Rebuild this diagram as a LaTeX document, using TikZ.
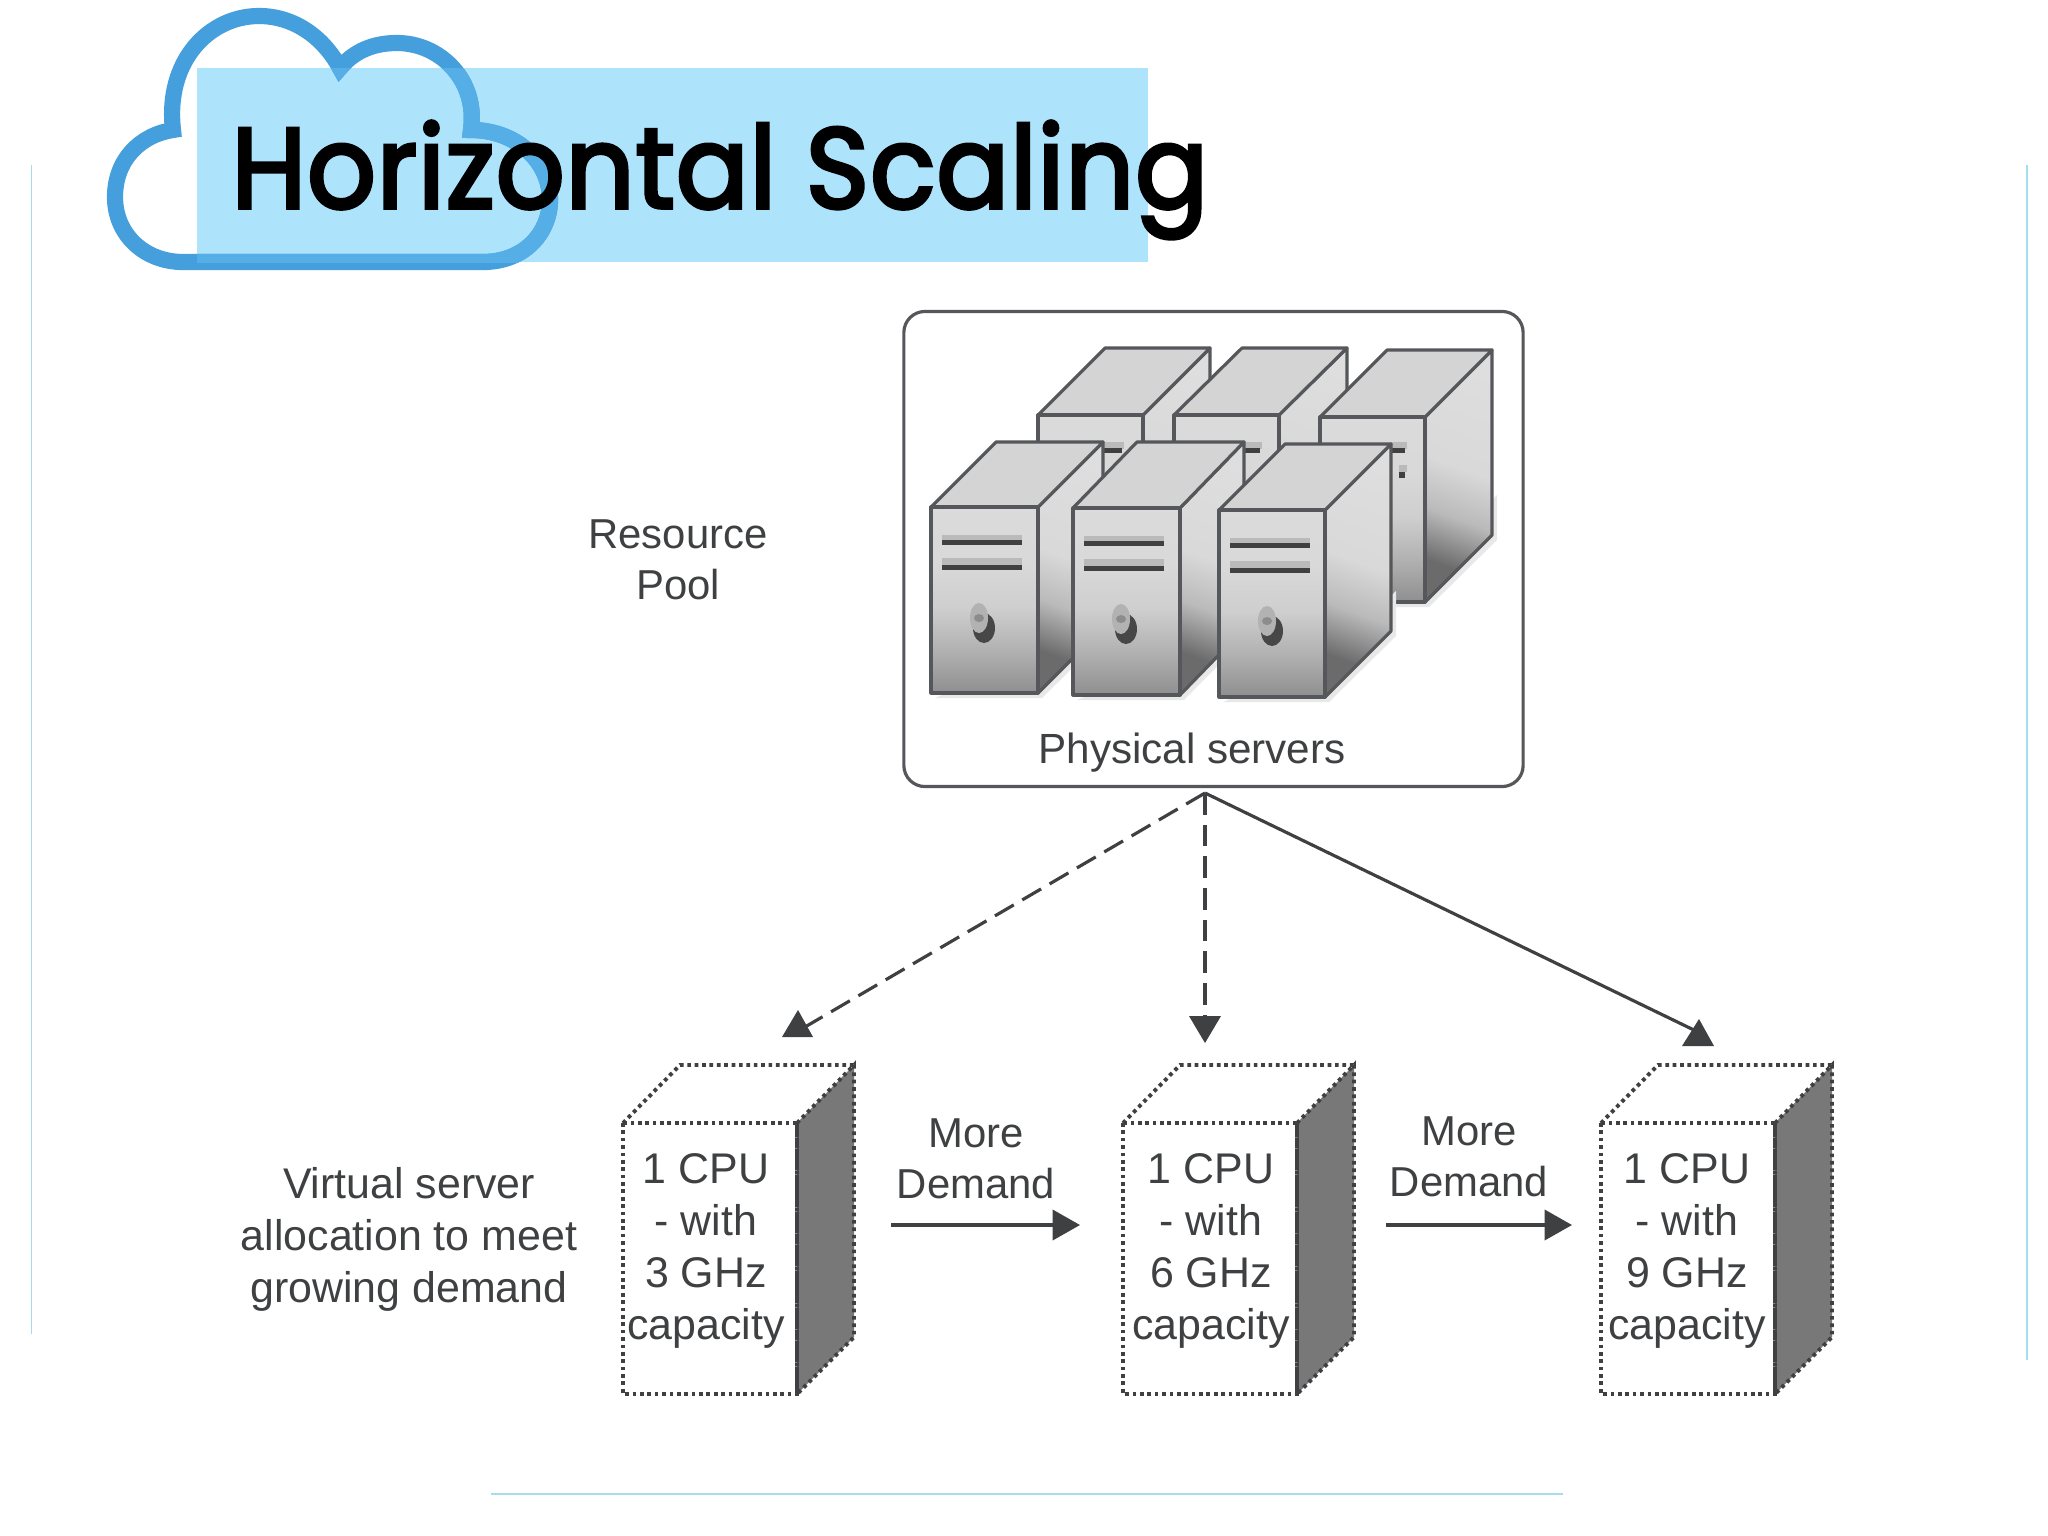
\documentclass[tikz,border=0pt]{standalone}
\usepackage{fontspec}
\setmainfont{Liberation Sans}
\newfontfamily\titlefont[FakeBold=3.2,FakeStretch=0.94,LetterSpace=1.0]{Poppins}
\usetikzlibrary{arrows.meta,shapes.geometric}
\definecolor{ink}{HTML}{3F4042}
\definecolor{cloudc}{HTML}{459FDC}
\definecolor{cloudl}{HTML}{55AEE6}
\definecolor{bandc}{HTML}{AEE3FC}
\definecolor{rulec}{HTML}{A6DCEE}
\definecolor{frameg}{HTML}{55575A}
\pgfdeclareverticalshading{towerfront}{100bp}{color(0bp)=(black!44); color(25bp)=(black!44); color(36bp)=(black!31); color(48bp)=(black!19); color(60bp)=(black!15); color(100bp)=(black!13)}
\pgfdeclareverticalshading{towerside}{100bp}{color(0bp)=(black!58); color(28bp)=(black!58); color(40bp)=(black!27); color(52bp)=(black!15); color(100bp)=(black!11)}
\tikzset{
  lbl/.style={font=\fontsize{12.2}{14}\selectfont,text=ink,inner sep=0pt,align=center},
  lblsmall/.style={font=\fontsize{11.9}{14}\selectfont,text=ink,inner sep=0pt,align=center},
  conn/.style={draw=ink,line width=0.9pt,-{Triangle[length=7.8pt,width=8.6pt]}},
  dashline/.style={draw=ink,line width=0.9pt,dash pattern=on 6.2pt off 2.8pt},
  solidline/.style={draw=ink,line width=0.9pt},
  headtri/.style={fill=ink},
  rulel/.style={draw=rulec,line width=0.45pt},
  dotline/.style={draw=ink,line width=1.1pt,dash pattern=on 1.05pt off 1.05pt},
  pface/.style={draw=frameg,line width=0.9pt,line join=round},
  cloudpath/.style={line width=4.6pt,line join=miter}
}
\newcommand{\towerbox}[6]{%
  \fill[black!9] (#1+4,#2+#4+5) -- (#1+#3+4,#2+#4+5) -- (#1+#3+#5+5,#2+#4-#6+5) -- (#1+#3+#5+5,#2+#4-#6-40) -- (#1+#3,#2+#4-40) -- cycle;
  \path[pface,shading=towerside,shading angle=-20] (#1+#3,#2) -- (#1+#3+#5,#2-#6) -- (#1+#3+#5,#2+#4-#6) -- (#1+#3,#2+#4) -- cycle;
  \path[pface,fill=black!17] (#1,#2) -- (#1+#5,#2-#6) -- (#1+#3+#5,#2-#6) -- (#1+#3,#2) -- cycle;
  \path[pface,shading=towerfront] (#1,#2) rectangle (#1+#3,#2+#4);
}
\newcommand{\towerparts}[2]{%
  \fill[black!27] (#1+11,#2+28) rectangle (#1+91,#2+37);
  \fill[black!27] (#1+11,#2+51) rectangle (#1+91,#2+60);
  \fill[black!75] (#1+11,#2+33) rectangle (#1+91,#2+38);
  \fill[black!75] (#1+11,#2+58) rectangle (#1+91,#2+63);
  \fill[black!72] (#1+53,#2+121) ellipse (11 and 15);
  \fill[black!30] (#1+48,#2+111) ellipse (9 and 15);
  \fill[black!45] (#1+48,#2+111) ellipse (5 and 4);
}
\newcommand{\vmbox}[2]{%
  \path[dotline,fill=black!53] (#1+174,#2) -- (#1+231,#2-58) -- (#1+231,#2+214) -- (#1+174,#2+271) -- cycle;
  \draw[dotline] (#1,#2) -- (#1+57,#2-58) -- (#1+231,#2-58);
  \draw[dotline] (#1,#2) rectangle (#1+174,#2+271);
}
\begin{document}
\begin{tikzpicture}[x=0.01cm,y=-0.01cm]
\useasboundingbox (0,0) rectangle (2048,1536);
\fill[white] (0,0) rectangle (2048,1536);
% slide rules
\draw[rulel] (31.5,165) -- (31.5,1334);
\draw[rulel] (2027,165) -- (2027,1360);
\draw[rulel] (491,1494) -- (1563,1494);
% title band and cloud
\fill[bandc] (197,68) rectangle (1148,262);
\def\cloudshape{(183,262) -- (483,262) .. controls (525,262) and (550,232) .. (550,200) .. controls (550,160) and (515,130) .. (471,130) .. controls (478,80) and (440,43) .. (397,43) .. controls (375,43) and (355,50) .. (340,68) .. controls (322,35) and (292,16) .. (259,16) .. controls (210,16) and (165,60) .. (173,130) .. controls (140,135) and (115,160) .. (115,197) .. controls (115,235) and (145,262) .. (183,262) -- cycle}
\draw[cloudc,cloudpath] \cloudshape;
\begin{scope}
\clip (197,68) rectangle (1148,262);
\draw[cloudl,cloudpath] \cloudshape;
\end{scope}
\node[anchor=base west,inner sep=0pt,font=\titlefont\fontsize{32.5}{36}\selectfont,text=black] (title) at (231,208) {Horizontal Scaling};
% resource pool
\node[draw=frameg,line width=0.9pt,rounded corners=6pt,minimum width=176.1pt,minimum height=135.1pt,inner sep=0pt] (pool) at (1213.5,549) {};
\towerbox{1038}{415}{105}{180}{67}{67}
\towerbox{1174}{415}{105}{180}{68}{67}
\towerbox{1320}{417}{105}{185}{67}{67}
\fill[black!27] (1103,442) rectangle (1124,449);
\fill[black!75] (1103,448) rectangle (1122,453);
\fill[black!27] (1244,442) rectangle (1262,449);
\fill[black!75] (1244,448) rectangle (1260,453);
\fill[black!27] (1391,442) rectangle (1407,449);
\fill[black!75] (1391,448) rectangle (1405,453);
\fill[black!27] (1399,465) rectangle (1407,472);
\fill[black!75] (1399,472) rectangle (1405,478);
\towerbox{931}{507}{107}{186}{65}{65}
\towerparts{931}{507}
\towerbox{1073}{508}{107}{187}{64}{66}
\towerparts{1073}{508}
\towerbox{1219}{510}{106}{187}{66}{66}
\towerparts{1219}{510}
\node[lblsmall,font=\fontsize{12}{14}\selectfont] (physical) at (1192,753) {Physical servers};
\node[lblsmall] (poollabel) at (678,560) {Resource\\[0.6pt]Pool};
% virtual servers
\vmbox{623}{1123}
\vmbox{1123}{1123}
\vmbox{1601}{1123}
\node[lbl] (vm1) at (706,1251) {1 CPU\\[0.8pt]- with\\[0.8pt]3 GHz\\[0.8pt]capacity};
\node[lbl] (vm2) at (1211,1251) {1 CPU\\[0.8pt]- with\\[0.8pt]6 GHz\\[0.8pt]capacity};
\node[lbl] (vm3) at (1687,1251) {1 CPU\\[0.8pt]- with\\[0.8pt]9 GHz\\[0.8pt]capacity};
\node[lbl] (virt) at (409,1239) {Virtual server\\[0.8pt]allocation to meet\\[0.8pt]growing demand};
\node[lblsmall] (more1) at (976,1159) {More\\[0.5pt]Demand};
\node[lblsmall] (more2) at (1469,1157) {More\\[0.5pt]Demand};
% connectors
\coordinate (src) at (1205,793);
\coordinate (dL) at (805,1027);
\coordinate (dM) at (1205,1018);
\coordinate (dR) at (1698,1032);
\draw[dashline] (src) -- (dL);
\draw[dashline] (src) -- (dM);
\draw[solidline] (src) -- (dR);
\fill[headtri] (798,1010) -- (782,1037) -- (813,1037) -- cycle;
\fill[headtri] (1205,1043) -- (1189,1016) -- (1221,1016) -- cycle;
\fill[headtri] (1699,1019) -- (1682,1046) -- (1714,1046) -- cycle;
\coordinate (m1a) at (891,1225);
\coordinate (m1b) at (1080,1225);
\coordinate (m2a) at (1386,1225);
\coordinate (m2b) at (1572,1225);
\draw[conn] (m1a) -- (m1b);
\draw[conn] (m2a) -- (m2b);
\end{tikzpicture}
\end{document}
